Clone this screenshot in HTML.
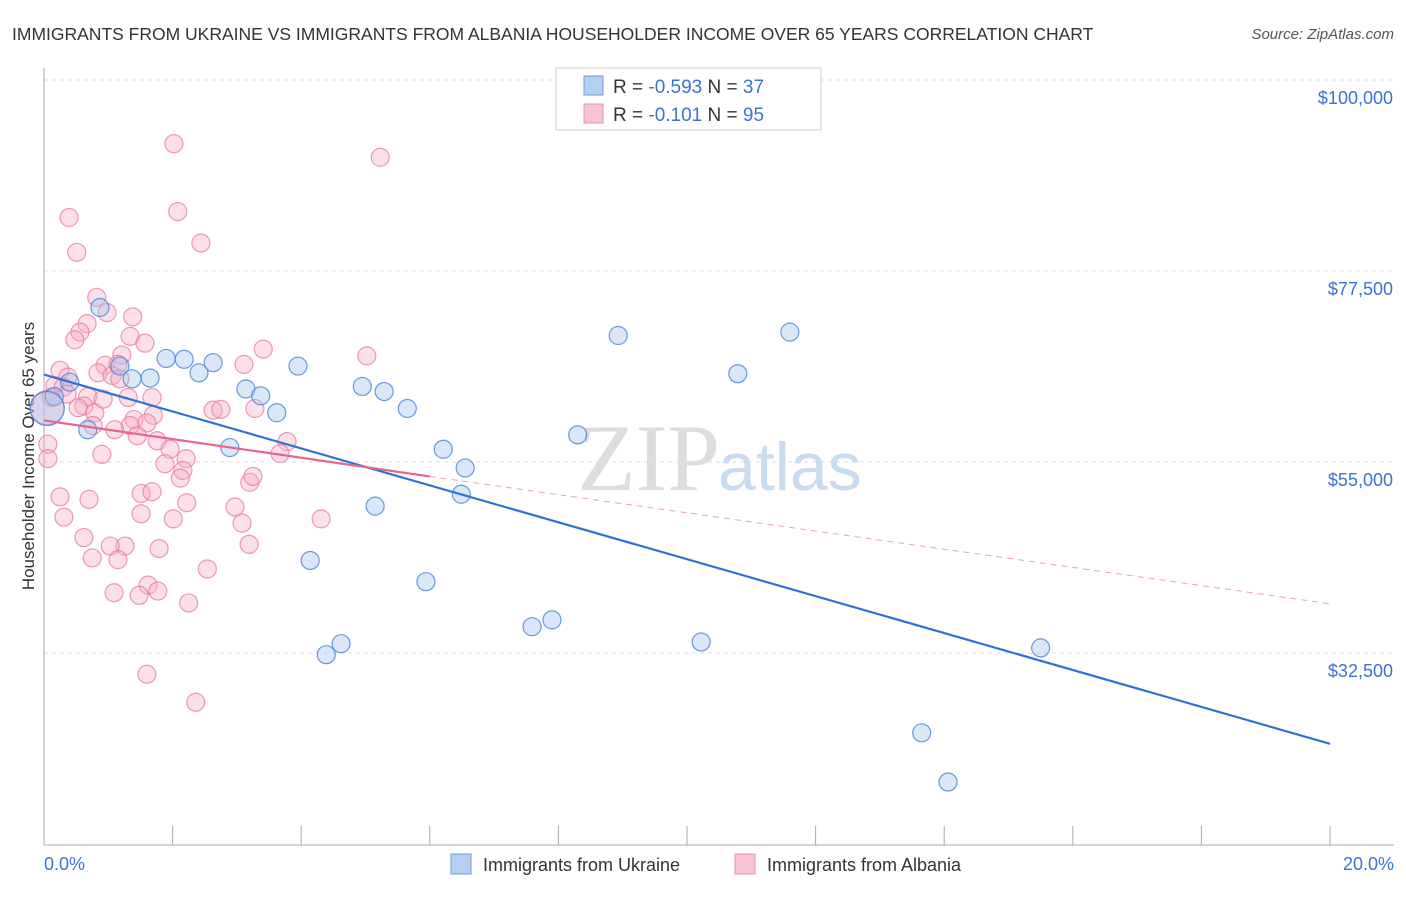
<!DOCTYPE html>
<html><head><meta charset="utf-8"><style>
body{margin:0;background:#fff;font-family:"Liberation Sans",sans-serif;}
</style></head><body>
<svg width="1406" height="892" xmlns="http://www.w3.org/2000/svg">
<text x="12" y="40" font-size="17.5" fill="#333">IMMIGRANTS FROM UKRAINE VS IMMIGRANTS FROM ALBANIA HOUSEHOLDER INCOME OVER 65 YEARS CORRELATION CHART</text>
<text x="1394" y="39" font-size="15" fill="#555" font-style="italic" text-anchor="end">Source: ZipAtlas.com</text>
<g id="grid"></g>
<text x="720" y="490" font-size="95" fill="#ddd" text-anchor="end" font-family="Liberation Serif,serif">ZIP</text>
<text x="718" y="490" font-size="68" fill="#c9dbef">atlas</text>
<line x1="44" y1="68" x2="44" y2="845" stroke="#aaa"/>
<line x1="44" y1="845" x2="1394" y2="845" stroke="#aaa"/>
<g id="ticks"></g>
<text transform="translate(34,456) rotate(-90)" font-size="17" fill="#333" text-anchor="middle">Householder Income Over 65 years</text>
<text x="44" y="870" font-size="18" fill="#3b73d4">0.0%</text>
<text x="1394" y="870" font-size="18" fill="#3b73d4" text-anchor="end">20.0%</text>
<g id="pts"></g>
<g id="trends"></g>
<g>
<rect x="556" y="68" width="265" height="62" fill="#fff" stroke="#ccc"/>
<rect x="584" y="76" width="19" height="19" fill="#b5cff3" stroke="#6c98dc"/>
<rect x="584" y="104" width="19" height="19" fill="#f8c3d3" stroke="#e892ad"/>
<text x="613" y="93" font-size="19" fill="#333">R = <tspan fill="#3b73d4">-0.593</tspan>   N = <tspan fill="#3b73d4">37</tspan></text>
<text x="613" y="121" font-size="19" fill="#333">R =  <tspan fill="#3b73d4">-0.101</tspan>   N = <tspan fill="#3b73d4">95</tspan></text>
</g>
<g>
<rect x="451" y="854" width="20" height="20" fill="#b5cff3" stroke="#6c98dc"/>
<text x="483" y="871" font-size="18" fill="#333">Immigrants from Ukraine</text>
<rect x="735" y="854" width="20" height="20" fill="#f8c3d3" stroke="#e892ad"/>
<text x="767" y="871" font-size="18" fill="#333">Immigrants from Albania</text>
</g>
</svg>
<script>
const yTicks=[100000,77500,55000,32500];
const yTickLabels=["$100,000","$77,500","$55,000","$32,500"];
const xTicks=[0,2,4,6,8,10,12,14,16,18,20];
const ukraineX=[0.87,1.18,1.37,1.65,1.90,2.18,2.41,2.63,2.89,3.14,3.37,3.62,3.95,4.14,4.39,4.62,4.95,5.15,5.29,5.65,5.94,6.21,6.49,6.55,7.59,7.90,8.30,8.93,10.22,10.79,11.60,13.65,14.06,15.50,0.68,0.16,0.05,0.40];
const ukraineY=[73200,66300,64800,64900,67200,67100,65500,66700,56700,63600,62800,60800,66300,43400,32300,33600,63900,49800,63300,61300,40900,56500,51200,54300,35600,36400,58200,69900,33800,65400,70300,23100,17300,33100,58800,62700,61300,64400];
const albaniaX=[2.02,5.23,2.08,2.44,0.39,0.51,0.82,0.98,0.67,0.56,1.38,0.48,1.34,1.57,3.41,5.02,1.21,0.95,1.15,3.11,0.84,1.06,0.25,0.37,0.17,0.11,0.30,0.68,0.62,0.53,0.79,0.92,1.31,1.68,1.40,1.34,1.70,1.60,1.10,0.76,1.45,2.63,2.75,3.78,3.67,1.76,1.96,1.88,2.21,2.16,2.12,3.20,3.25,0.06,0.06,0.90,0.25,0.70,1.51,1.68,2.22,2.97,4.31,0.31,1.51,2.01,3.08,0.62,1.26,1.03,1.79,3.19,0.75,1.15,2.54,1.62,1.09,1.48,1.77,2.25,1.60,2.36,3.28,1.18,0.36,0.05];
const albaniaY=[92500,90900,84500,80800,83800,79700,74400,72600,71300,70300,72100,69400,69800,69000,68300,67500,67600,66400,66500,66500,65500,65200,65800,65000,64000,62600,63800,62700,61600,61400,60800,62400,62600,62600,60000,59300,60500,59600,58800,59300,58100,61100,61200,57400,56000,57500,56500,54800,55400,54000,53100,52600,53300,57100,55400,55900,50900,50600,51300,51500,50200,49700,48300,48500,48900,48300,47800,46100,45100,45100,44800,45300,43700,43500,42400,40500,39600,39300,39800,38400,30000,26700,61300,64800,63000,61400];
const trendU=[[0,65300],[20,21800]];
const trendA=[[0,59900],[6,53300],[20,38300]];
const X=v=>44+v*64.3, Y=v=>80+(100000-v)/117.8;
const NS="http://www.w3.org/2000/svg";
function mk(tag,attrs,parent){const e=document.createElementNS(NS,tag);for(const k in attrs)e.setAttribute(k,attrs[k]);parent.appendChild(e);return e;}
const grid=document.getElementById('grid'),ticks=document.getElementById('ticks'),pts=document.getElementById('pts'),tr=document.getElementById('trends');
yTicks.forEach((v,i)=>{
 const l=mk('line',{x1:44,x2:1394,y1:Y(v),y2:Y(v),stroke:'#ddd','stroke-dasharray':'4 4'},grid);
 
 
 const t=mk('text',{x:1393,y:Y(v)+24,'font-size':18,fill:'#3b73d4','text-anchor':'end'},grid);
 t.textContent=yTickLabels[i];
 
 
});
xTicks.forEach(v=>{
 const l=mk('line',{x1:X(v),x2:X(v),y1:826,y2:845,stroke:'#aaa'},ticks);
 
 
});
albaniaX.forEach((x,i)=>{
 const c=mk('circle',{cx:X(x),cy:Y(albaniaY[i]),r:i==albaniaX.length-1?17:9,fill:'rgba(246,170,194,0.38)',stroke:'rgba(232,120,155,0.75)','stroke-width':1.2},pts);
 
 
});
ukraineX.forEach((x,i)=>{
 const c=mk('circle',{cx:X(x),cy:Y(ukraineY[i]),r:i==36?17:9,fill:'rgba(160,195,240,0.4)',stroke:'rgba(70,130,215,0.8)','stroke-width':1.2},pts);
 
 
});
let l=mk('line',{x1:X(trendU[0][0]),y1:Y(trendU[0][1]),x2:X(trendU[1][0]),y2:Y(trendU[1][1]),stroke:'#2f72d6','stroke-width':2.2},tr);


l=mk('line',{x1:X(trendA[0][0]),y1:Y(trendA[0][1]),x2:X(trendA[1][0]),y2:Y(trendA[1][1]),stroke:'#e8648f','stroke-width':2.2},tr);


l=mk('line',{x1:X(trendA[1][0]),y1:Y(trendA[1][1]),x2:X(trendA[2][0]),y2:Y(trendA[2][1]),stroke:'#e8a0b8','stroke-width':1,'stroke-dasharray':'6 5'},tr);


</script>
</body></html>
